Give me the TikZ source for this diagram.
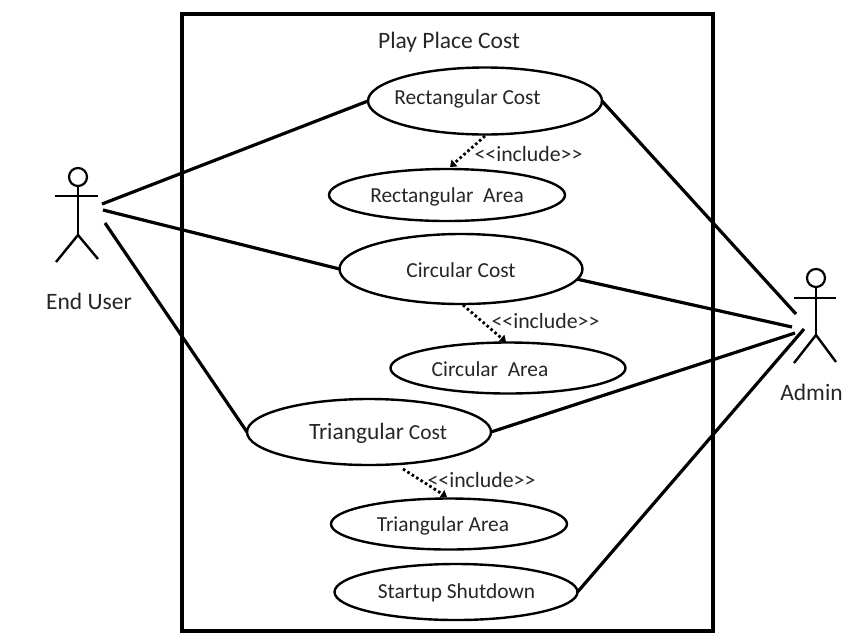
\documentclass[tikz,border=0pt]{standalone}
\usepackage{fontspec}
\setmainfont{Carlito}
\usetikzlibrary{shapes.geometric,arrows.meta}
\tikzset{
  usecase/.style={draw=black,ellipse,line width=2.4pt,inner sep=0pt,outer sep=0pt},
  assoc/.style={draw=black,line width=3.2pt},
  incl/.style={draw=black,line width=2.8pt,dash pattern=on 2.6pt off 2.6pt,-{Triangle[length=6pt,width=9pt,line width=0pt]}},
  limb/.style={draw=black,line width=2.4pt},
  lbl/.style={font=\fontsize{21.4}{24}\selectfont,text=black!85,inner sep=0pt},
  biglbl/.style={font=\fontsize{23.5}{26}\selectfont,text=black!85,inner sep=0pt},
  inclabel/.style={font=\fontsize{21.8}{24}\selectfont,text=black!85,inner sep=0pt}
}
\newcommand{\inctext}{<{}<include>{}>}
\begin{document}
\begin{tikzpicture}[x=1pt,y=-1pt]
\useasboundingbox (0,0) rectangle (850,638);
\fill[white] (0,0) rectangle (850,638);
\draw[line width=3.4pt] (182,14) rectangle (713,631);
\node[biglbl] (title) at (449,42.5) {Play Place Cost};
\node[usecase,minimum width=234pt,minimum height=67pt] (rc) at (485,101) {};
\node[lbl] (rct) at (467.5,99) {Rectangular Cost};
\node[usecase,minimum width=236pt,minimum height=52pt] (ra) at (447,195) {};
\node[lbl] (rat) at (447,196.5) {Rectangular\ \ Area};
\node[usecase,minimum width=243pt,minimum height=70pt] (cc) at (461,269) {};
\node[lbl] (cct) at (461,270) {Circular Cost};
\node[usecase,minimum width=235pt,minimum height=51pt] (ca) at (508,368) {};
\node[lbl] (cat) at (490,369.5) {Circular\ \ Area};
\node[usecase,minimum width=244pt,minimum height=66pt] (tc) at (369,432) {};
\node[lbl] (tct) at (378,433.5) {{\fontsize{23.4}{26}\selectfont Triangular} Cost};
\node[usecase,minimum width=236pt,minimum height=51pt] (ta) at (449,524) {};
\node[lbl] (tat) at (443,525.5) {Triangular Area};
\node[usecase,minimum width=243pt,minimum height=56pt] (ss) at (456,592) {};
\node[lbl] (sst) at (456.5,592.5) {Startup Shutdown};
% include labels
\node[inclabel] (i1) at (528.5,154) {\inctext};
\node[inclabel] (i2) at (545.5,321) {\inctext};
\node[inclabel] (i3) at (481.5,480) {\inctext};
\draw[incl] (485,136) coordinate (i1s) -- (450,167) coordinate (i1e);
\draw[incl] (463,305) coordinate (i2s) -- (506,342) coordinate (i2e);
\draw[incl] (403,469) coordinate (i3s) -- (447,497) coordinate (i3e);
% End User
\node[draw=black,circle,line width=2.2pt,minimum size=18pt,inner sep=0pt] (uh) at (78,177) {};
\coordinate (uhip) at (78,235);
\coordinate (uarmL) at (55,196);
\coordinate (uarmR) at (98,196);
\coordinate (ulegL) at (56,262);
\coordinate (ulegR) at (98,259);
\draw[limb] (uh) -- (uhip);
\draw[limb] (uarmL) -- (uarmR);
\draw[limb] (ulegL) -- (uhip) -- (ulegR);
\node[biglbl] (ul) at (89,301) {End User};
% Admin
\node[draw=black,circle,line width=2.2pt,minimum size=18pt,inner sep=0pt] (ah) at (816,278) {};
\coordinate (ahip) at (816,335);
\coordinate (aarmL) at (794,298);
\coordinate (aarmR) at (836,298);
\coordinate (alegL) at (794,363);
\coordinate (alegR) at (836,362);
\draw[limb] (ah) -- (ahip);
\draw[limb] (aarmL) -- (aarmR);
\draw[limb] (alegL) -- (ahip) -- (alegR);
\node[biglbl] (al) at (811.5,392) {Admin};
% associations
\coordinate (u1) at (102,204);
\coordinate (u2) at (103,210);
\coordinate (u3) at (105,223);
\coordinate (a1) at (796,314);
\coordinate (a2) at (792,327);
\coordinate (a3) at (795,333);
\coordinate (a4) at (804,329);
\draw[assoc] (u1) -- (rc.west);
\draw[assoc] (u2) -- (cc.west);
\draw[assoc] (u3) -- (tc.west);
\draw[assoc] (rc.east) -- (a1);
\draw[assoc] (cc.-5) -- (a2);
\draw[assoc] (tc.east) -- (a3);
\draw[assoc] (ss.east) -- (a4);
\end{tikzpicture}
\end{document}
